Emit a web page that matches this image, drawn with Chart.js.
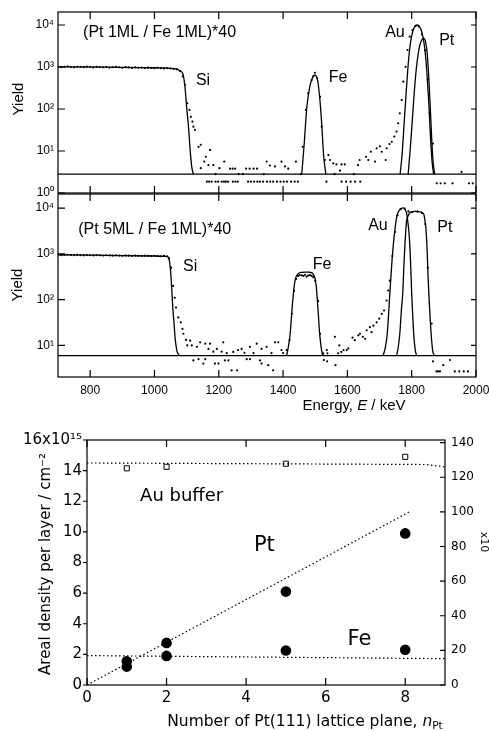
<!DOCTYPE html>
<html>
<head>
<meta charset="utf-8">
<script src="https://cdn.jsdelivr.net/npm/chart.js@4.4.0/dist/chart.umd.min.js"></script>
<style>
html, body { margin: 0; padding: 0; background: #fff; width: 489px; height: 731px; overflow: hidden; }
canvas { position: absolute; left: 0; }
</style>
</head>
<body>
<canvas id="spec1" width="489" height="202" style="top:0px"></canvas>
<canvas id="spec2" width="489" height="230" style="top:190px"></canvas>
<canvas id="dens" width="489" height="311" style="top:420px"></canvas>
<script>
// ---- spectrum (Pt 1ML / Fe 1ML)*40 ----
const a_baseE = [700, 2000]
const a_baseY = [2.8, 2.8]
const a_siE = [700, 850, 1000, 1060, 1072, 1080, 1088, 1095, 1100, 1106, 1111, 1116, 1121]
const a_siY = [1010, 990, 960, 920, 880, 800, 700, 330, 113, 37, 10.5, 4.2, 2.8]
const a_feE = [1458, 1465, 1474, 1484, 1492, 1499, 1505, 1509, 1515, 1520, 1526, 1533]
const a_feY = [2.8, 12.6, 113, 370, 560, 645, 560, 410, 150, 46, 8, 2.8]
const a_auE = [1764, 1770, 1776, 1782, 1788, 1794, 1800, 1806, 1812, 1817, 1823, 1829, 1835, 1841, 1847, 1853, 1858, 1863, 1868]
const a_auY = [2.8, 8, 40, 200, 900, 2800, 5500, 8000, 9600, 10000, 9400, 7800, 5200, 2600, 800, 150, 25, 6, 2.8]
const a_ptE = [1789, 1795, 1802, 1808, 1814, 1820, 1826, 1832, 1838, 1843, 1848, 1853, 1858, 1863, 1867, 1872]
const a_ptY = [2.8, 10, 55, 250, 850, 2000, 3500, 4500, 4800, 4000, 2200, 600, 100, 15, 5, 2.8]
const a_platE = [700, 710, 720, 730, 740, 750, 760, 770, 780, 790, 800, 810, 820, 830, 840, 850, 860, 870, 880, 890,
    900, 910, 920, 930, 940, 950, 960, 970, 980, 990, 1000, 1010, 1020, 1030, 1040, 1050, 1060, 1070]
const a_platY = [1020, 990, 1010, 1030, 1000, 985, 1015, 1005, 990, 1020, 1000, 975, 1010, 995, 985, 1000, 970, 990, 1005, 980,
    960, 990, 975, 950, 985, 960, 970, 945, 965, 950, 935, 960, 940, 925, 945, 920, 900, 880]
const a_dots = [
    [1080, 800], [1088, 600], [1095, 380], [1102, 137], [1109, 95], [1113, 65], [1118, 50], [1121, 38], [1126, 32],
    [1137, 12.6], [1144, 14], [1144, 3.9], [1155, 5.6], [1160, 7.3], [1168, 4.6], [1173, 10.6], [1183, 4.6], [1202, 3.9],
    [1217, 5.6], [1235, 3.8], [1243, 3.8], [1251, 3.8], [1285, 3.8], [1296, 3.8], [1308, 3.8], [1319, 3.8], [1349, 5.6],
    [1359, 4.5], [1375, 4.3], [1395, 5.6], [1406, 4.3], [1416, 3.8], [1440, 5.6],
    [1163, 1.86], [1170, 1.86], [1178, 1.86], [1190, 1.86], [1198, 1.86], [1209, 1.86], [1216, 1.86], [1222, 1.86],
    [1229, 1.86], [1244, 1.86], [1252, 1.86], [1259, 1.86], [1291, 1.86], [1300, 1.86], [1310, 1.86], [1320, 1.86],
    [1328, 1.86], [1338, 1.86], [1350, 1.86], [1360, 1.86], [1369, 1.86], [1381, 1.86], [1392, 1.86], [1402, 1.86],
    [1412, 1.86], [1425, 1.86], [1436, 1.86], [1446, 1.86],
    [1190, 2.8], [1262, 2.8], [1275, 2.8], [1340, 2.8], [1455, 2.8], [1560, 2.8], [1620, 2.8],
    [1461, 12.6], [1471, 95], [1478, 237], [1489, 490], [1494, 600], [1499, 730], [1506, 540], [1515, 196], [1520, 38], [1530, 6.1],
    [1541, 8], [1546, 6.1], [1556, 5.1], [1566, 4.8], [1582, 4.8], [1592, 4.8], [1577, 3.4],
    [1535, 1.86], [1582, 1.86], [1596, 1.86], [1610, 1.86], [1624, 1.86], [1640, 1.86],
    [1633, 4.6], [1638, 6.1], [1658, 7.3], [1665, 6.1], [1673, 9.6], [1686, 5.6], [1691, 11.6], [1701, 12.9], [1707, 9.6],
    [1719, 6.1], [1722, 11.6], [1731, 14.6], [1738, 16.6], [1746, 22], [1753, 29], [1758, 45.6], [1763, 79], [1769, 163],
    [1774, 448], [1781, 1010], [1787, 2540], [1794, 5270], [1802, 7600], [1812, 9500], [1822, 9200], [1832, 6000],
    [1842, 2500], [1850, 500], [1856, 80], [1866, 15],
    [1878, 1.7], [1890, 1.7], [1903, 1.7], [1927, 1.7], [1955, 3.2], [1978, 1.7], [1990, 1.7]
]

// ---- spectrum (Pt 5ML / Fe 1ML)*40 ----
const b_baseE = [700, 2000]
const b_baseY = [6, 6]
const b_siE = [700, 850, 1000, 1035, 1043, 1048, 1051, 1054, 1057, 1061, 1064, 1068, 1071, 1075, 1080]
const b_siY = [960, 930, 900, 880, 840, 600, 357, 160, 67, 30, 15, 9, 7.1, 6.3, 6]
const b_feE = [1411, 1416, 1422, 1430, 1437, 1447, 1458, 1468, 1480, 1489, 1495, 1499, 1503, 1506, 1510, 1513, 1520, 1525]
const b_feY = [6, 9, 18, 94, 257, 370, 395, 400, 398, 390, 350, 300, 200, 111, 45, 21, 7.7, 6]
const b_auE = [1711, 1718, 1724, 1732, 1738, 1743, 1748, 1753, 1758, 1763, 1768, 1774, 1779, 1784, 1788, 1792, 1796, 1800, 1804, 1807, 1811, 1815]
const b_auY = [6, 9, 18, 134, 600, 1620, 3500, 6170, 8200, 9340, 9900, 10100, 9400, 7900, 5000, 2680, 800, 134, 35, 15, 8, 6]
const b_ptE = [1753, 1758, 1763, 1768, 1772, 1776, 1779, 1782, 1784, 1789, 1794, 1802, 1810, 1818, 1826, 1832, 1838, 1841, 1844, 1848, 1851, 1855, 1859, 1865, 1870]
const b_ptY = [6, 9, 18, 60, 134, 600, 1620, 3500, 5200, 6800, 7900, 8400, 8500, 8500, 8300, 8000, 7250, 5500, 3720, 1200, 308, 80, 25, 7.9, 6]
const b_platE = [700, 710, 720, 730, 740, 750, 760, 770, 780, 790, 800, 810, 820, 830, 840, 850, 860, 870,
    880, 890, 900, 910, 920, 930, 940, 950, 960, 970, 980, 990, 1000, 1010, 1020, 1030, 1040]
const b_platY = [955, 940, 950, 960, 945, 935, 950, 940, 930, 945, 935, 925, 940, 930, 920, 935, 925, 915,
    930, 920, 910, 925, 915, 905, 920, 910, 900, 915, 905, 895, 910, 900, 890, 905, 890]
const b_dots = [
    [1045, 800], [1052, 500], [1058, 200], [1063, 110], [1067, 67], [1074, 41], [1082, 32], [1087, 23], [1090, 18],
    [1098, 13.2], [1102, 10], [1111, 12.7], [1116, 10], [1121, 4.7], [1132, 9.3], [1137, 5.0], [1142, 11.7], [1152, 4.0],
    [1158, 10.9], [1158, 5.0], [1168, 8.4], [1173, 10.9], [1183, 7.3], [1188, 4.0], [1194, 8.4], [1199, 4.0], [1209, 7.3],
    [1214, 11.7], [1219, 4.7], [1225, 6.8], [1230, 4.7], [1240, 2.85], [1245, 7.2], [1257, 2.85], [1260, 7.9], [1271, 8.4],
    [1280, 6.9], [1287, 5.0], [1297, 9.3], [1297, 5.0], [1308, 6.8], [1318, 10.9], [1328, 4.7], [1333, 8.4], [1333, 4.0],
    [1349, 9.3], [1354, 3.7], [1364, 6.8], [1369, 2.85], [1375, 11.7], [1385, 11.7], [1395, 7.9], [1400, 6.8], [1411, 7.9],
    [1420, 13], [1427, 49], [1434, 155], [1440, 280], [1447, 330], [1452, 345], [1458, 340], [1463, 330], [1468, 350],
    [1473, 320], [1478, 335], [1484, 345], [1489, 330], [1494, 310], [1500, 260], [1509, 94], [1515, 18], [1523, 6.5],
    [1525, 6.7], [1527, 4.8], [1536, 7.9], [1537, 4.5], [1538, 6.7], [1561, 15.4], [1563, 3.7], [1571, 6.7], [1575, 10],
    [1581, 7.2], [1588, 7.9], [1598, 7.9], [1603, 8.6], [1616, 14.8], [1623, 13], [1634, 16.6], [1639, 18], [1648, 15.4],
    [1655, 14], [1660, 21.4], [1670, 25], [1675, 19.5], [1681, 27], [1691, 32], [1699, 38.4], [1707, 49], [1714, 58],
    [1722, 96], [1727, 158], [1732, 260], [1740, 900], [1748, 3000], [1756, 7000], [1766, 9500], [1778, 9800],
    [1790, 8500], [1802, 8200], [1818, 8400], [1832, 7800], [1842, 4500], [1850, 500], [1862, 30], [1866, 4.5],
    [1877, 2.7], [1882, 2.7], [1888, 2.7], [1898, 3.7], [1919, 4.8], [1934, 2.7], [1948, 2.7], [1962, 2.7], [1975, 2.7]
]

// ---- areal density vs number of Pt(111) planes ----
const nPt = [1, 2, 5, 8]
const auBuffer = [14.15, 14.25, 14.45, 14.9]
const ptDensity = [1.55, 2.75, 6.1, 9.9]
const feDensity = [1.2, 1.9, 2.25, 2.3]
const ptFitX = [0, 8.1]
const ptFitY = [0, 11.3]
const auFitX = [0, 8.5, 9]
const auFitY = [14.5, 14.4, 14.25]
const feFitX = [0, 9]
const feFitY = [1.92, 1.72]

// ticks
const energyTicks = [800, 1000, 1200, 1400, 1600, 1800, 2000]
const decadeTicks = [1, 10, 100, 1000, 10000]
const nTicks = [0, 2, 4, 6, 8]
const densTicks = [0, 2, 4, 6, 8, 10, 12, 14, 16]
const rightTicks = [0, 20, 40, 60, 80, 100, 120, 140]

const SUP = ['⁰', '¹', '²', '³', '⁴']
const HELV = 'Liberation Sans'
const LUC = 'DejaVu Sans'

Chart.defaults.color = '#000'
Chart.defaults.font.family = HELV
Chart.defaults.animation = false

function pts(xs, ys) {
    return xs.map((x, i) => ({ x: x, y: ys[i] }))
}
function pairs(list) {
    return list.map(p => ({ x: p[0], y: p[1] }))
}
function curve(xs, ys) {
    return { data: pts(xs, ys), showLine: true, pointRadius: 0, borderColor: '#000', borderWidth: 1.3, cubicInterpolationMode: 'monotone' }
}
function dots(data) {
    return { data: data, showLine: false, pointRadius: 1.1, pointBorderWidth: 0, backgroundColor: '#000' }
}
function fixTicks(values) {
    return function (scale) {
        scale.ticks = values.filter(v => v >= scale.min && v <= scale.max).map(v => ({ value: v }))
    }
}
function fixSize(w, h) {
    return function (scale) {
        if (w !== null) scale.width = w
        if (h !== null) scale.height = h
        scale.paddingLeft = 0; scale.paddingRight = 0; scale.paddingTop = 0; scale.paddingBottom = 0
    }
}

// frame + tick marks drawn on the plot edges
const frame = {
    id: 'frame',
    afterDatasetsDraw(chart, args, o) {
        const { ctx, chartArea: a, scales } = chart
        ctx.save()
        ctx.strokeStyle = '#000'
        ctx.lineWidth = 1.2
        ctx.strokeRect(a.left, a.top, a.right - a.left, a.bottom - a.top)
        ctx.beginPath()
        ;(o.marks || []).forEach(m => {
            const s = scales[m.scale]
            m.values.forEach(v => {
                if (v < s.min || v > s.max) return
                const p = s.getPixelForValue(v)
                m.sides.forEach(side => {
                    if (side === 'bottom') { ctx.moveTo(p, a.bottom); ctx.lineTo(p, a.bottom - m.len) }
                    if (side === 'top') { ctx.moveTo(p, a.top); ctx.lineTo(p, a.top + m.len) }
                    if (side === 'left') { ctx.moveTo(a.left, p); ctx.lineTo(a.left + m.len, p) }
                    if (side === 'right') { ctx.moveTo(a.right, p); ctx.lineTo(a.right - m.len, p) }
                })
            })
        })
        ctx.stroke()
        ctx.restore()
    }
}

// text labels, either in data units or in canvas pixels
const notes = {
    id: 'notes',
    afterDraw(chart, args, o) {
        const ctx = chart.ctx
        ;(o.items || []).forEach(it => {
            const x = it.px !== undefined ? it.px : chart.scales[it.xs || 'x'].getPixelForValue(it.x)
            const y = it.py !== undefined ? it.py : chart.scales[it.ys || 'y'].getPixelForValue(it.y)
            const parts = it.parts || [{ t: it.t }]
            ctx.save()
            ctx.translate(x, y)
            ctx.rotate((it.rot || 0) * Math.PI / 180)
            ctx.fillStyle = '#000'
            ctx.textBaseline = 'middle'
            ctx.textAlign = 'left'
            let w = 0
            parts.forEach(p => { ctx.font = p.f || it.f; w += ctx.measureText(p.t).width })
            let cx = it.align === 'left' ? 0 : -w / 2
            parts.forEach(p => {
                ctx.font = p.f || it.f
                ctx.fillText(p.t, cx, p.dy || 0)
                cx += ctx.measureText(p.t).width
            })
            ctx.restore()
        })
    }
}

function specOptions(yMin, showX, padTop, xHeight, items) {
    return {
        responsive: false,
        layout: { padding: { top: padTop, right: 13, left: 0, bottom: 0 } },
        plugins: {
            legend: { display: false },
            tooltip: { enabled: false },
            frame: {
                marks: [
                    { scale: 'x', values: energyTicks, sides: ['bottom', 'top'], len: 7 },
                    { scale: 'y', values: decadeTicks, sides: ['left'], len: 7 },
                    { scale: 'y', values: decadeTicks, sides: ['right'], len: 5 }
                ]
            },
            notes: { items: items }
        },
        scales: {
            x: {
                type: 'linear', min: 700, max: 2000,
                grid: { display: false, drawTicks: false }, border: { display: false },
                afterBuildTicks: fixTicks(energyTicks),
                afterFit: fixSize(null, xHeight),
                ticks: { display: showX, padding: 6, font: { size: 12 }, callback: v => String(v) }
            },
            y: {
                type: 'logarithmic', min: yMin, max: 20400,
                grid: { display: false, drawTicks: false }, border: { display: false },
                afterBuildTicks: fixTicks(decadeTicks),
                afterFit: fixSize(58, null),
                ticks: { padding: 4, font: { size: 12 }, callback: v => '10' + SUP[Math.round(Math.log10(v))] }
            }
        }
    }
}

const f16 = '16px ' + HELV
const f15 = '15px ' + HELV
new Chart(document.getElementById('spec1'), {
    type: 'scatter',
    data: {
        datasets: [
            curve(a_baseE, a_baseY), curve(a_siE, a_siY), curve(a_feE, a_feY), curve(a_auE, a_auY), curve(a_ptE, a_ptY),
            dots(pts(a_platE, a_platY)), dots(pairs(a_dots))
        ]
    },
    options: specOptions(1, false, 12, 9, [
        { t: '(Pt 1ML / Fe 1ML)*40', x: 778, y: 6450, f: f16, align: 'left' },
        { t: 'Si', x: 1151, y: 464, f: f16 },
        { t: 'Fe', x: 1571, y: 548, f: f16 },
        { t: 'Au', x: 1748, y: 6450, f: f16 },
        { t: 'Pt', x: 1909, y: 4170, f: f16 },
        { t: 'Yield', px: 19, py: 99, rot: -90, f: f15 }
    ]),
    plugins: [frame, notes]
})

new Chart(document.getElementById('spec2'), {
    type: 'scatter',
    data: {
        datasets: [
            curve(b_baseE, b_baseY), curve(b_siE, b_siY), curve(b_feE, b_feY), curve(b_auE, b_auY), curve(b_ptE, b_ptY),
            dots(pts(b_platE, b_platY)), dots(pairs(b_dots))
        ]
    },
    options: specOptions(2.04, true, 3, 43, [
        { t: '(Pt 5ML / Fe 1ML)*40', x: 763, y: 3440, f: f16, align: 'left' },
        { t: 'Si', x: 1111, y: 540, f: f16 },
        { t: 'Fe', x: 1521, y: 570, f: f16 },
        { t: 'Au', x: 1695, y: 4200, f: f16 },
        { t: 'Pt', x: 1903, y: 3800, f: f16 },
        { t: 'Yield', px: 18, py: 95, rot: -90, f: f15 },
        { parts: [{ t: 'Energy, ', f: f15 }, { t: 'E', f: 'italic 15px ' + HELV }, { t: ' / keV', f: f15 }], px: 354, py: 216 }
    ]),
    plugins: [frame, notes]
})

function fitLine(xs, ys) {
    return { data: pts(xs, ys), showLine: true, pointRadius: 0, borderColor: '#000', borderWidth: 1.2, borderDash: [1.5, 2.5] }
}
new Chart(document.getElementById('dens'), {
    type: 'scatter',
    data: {
        datasets: [
            fitLine(auFitX, auFitY), fitLine(ptFitX, ptFitY), fitLine(feFitX, feFitY),
            { data: pts(nPt, auBuffer), pointStyle: 'rect', pointRadius: 3.6, borderColor: '#000', borderWidth: 1, backgroundColor: '#fff' },
            { data: pts(nPt, ptDensity), pointRadius: 5.3, borderWidth: 0, backgroundColor: '#000' },
            { data: pts(nPt, feDensity), pointRadius: 5.3, borderWidth: 0, backgroundColor: '#000' }
        ]
    },
    options: {
        responsive: false,
        layout: { padding: { top: 20, right: 0, left: 0, bottom: 0 } },
        plugins: {
            legend: { display: false },
            tooltip: { enabled: false },
            frame: {
                marks: [
                    { scale: 'x', values: nTicks, sides: ['bottom', 'top'], len: 7 },
                    { scale: 'y', values: densTicks, sides: ['left'], len: -4 },
                    { scale: 'y2', values: rightTicks, sides: ['right'], len: 5 }
                ]
            },
            notes: {
                items: [
                    { t: 'Au buffer', x: 2.38, y: 12.35, f: '18px ' + LUC },
                    { t: 'Pt', x: 4.46, y: 9.1, f: '21px ' + LUC },
                    { t: 'Fe', x: 6.85, y: 2.97, f: '21px ' + LUC },
                    { t: 'Areal density per layer / cm⁻²', px: 46, py: 144, rot: -90, f: '15px ' + LUC },
                    { parts: [{ t: 'Number of Pt(111) lattice plane, ', f: '15.5px ' + LUC }, { t: 'n', f: 'italic 15.5px ' + LUC }, { t: 'Pt', f: '10.5px ' + LUC, dy: 4 }], px: 305, py: 302 },
                    { t: 'x10', px: 484, py: 122, rot: 90, f: '11px ' + LUC }
                ]
            }
        },
        scales: {
            x: {
                type: 'linear', min: 0, max: 9,
                grid: { display: false, drawTicks: false }, border: { display: false },
                afterBuildTicks: fixTicks(nTicks),
                afterFit: fixSize(null, 46),
                ticks: { padding: 4, font: { family: LUC, size: 15 } }
            },
            y: {
                type: 'linear', position: 'left', min: 0, max: 16,
                grid: { display: false, drawTicks: false }, border: { display: false },
                afterBuildTicks: fixTicks(densTicks),
                afterFit: fixSize(87, null),
                ticks: { padding: 5, font: { family: LUC, size: 15 }, callback: v => v === 16 ? '16x10¹⁵' : String(v) }
            },
            y2: {
                type: 'linear', position: 'right', min: 0, max: 141.5,
                grid: { display: false, drawTicks: false }, border: { display: false },
                afterBuildTicks: fixTicks(rightTicks),
                afterFit: fixSize(44, null),
                ticks: { padding: 6, font: { family: LUC, size: 12 } }
            }
        }
    },
    plugins: [frame, notes]
})
</script>
</body>
</html>
